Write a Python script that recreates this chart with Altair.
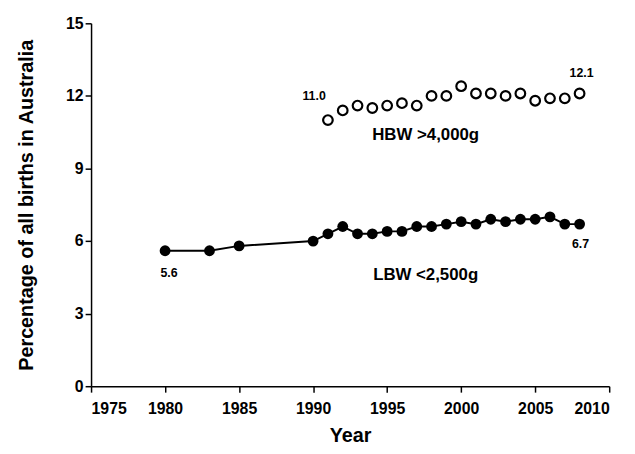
import altair as alt
import pandas as pd

# LBW (<2,500g) series
lbw_years = [1980, 1983, 1985, 1990, 1991, 1992, 1993, 1994, 1995, 1996, 1997,
             1998, 1999, 2000, 2001, 2002, 2003, 2004, 2005, 2006, 2007, 2008]
lbw_values = [5.6, 5.6, 5.8, 6.0, 6.3, 6.6, 6.3, 6.3, 6.4, 6.4, 6.6,
              6.6, 6.7, 6.8, 6.7, 6.9, 6.8, 6.9, 6.9, 7.0, 6.7, 6.7]

# HBW (>4,000g) series
hbw_years = [1991, 1992, 1993, 1994, 1995, 1996, 1997, 1998, 1999, 2000,
             2001, 2002, 2003, 2004, 2005, 2006, 2007, 2008]
hbw_values = [11.0, 11.4, 11.6, 11.5, 11.6, 11.7, 11.6, 12.0, 12.0, 12.4,
              12.1, 12.1, 12.0, 12.1, 11.8, 11.9, 11.9, 12.1]

# series name labels
series_names = ["HBW >4,000g", "LBW <2,500g"]
series_label_x = [1997.6, 1997.6]
series_label_y = [10.4, 4.6]

FONT = "Liberation Sans"

lbw = pd.DataFrame({"Year": lbw_years, "Value": lbw_values})
hbw = pd.DataFrame({"Year": hbw_years, "Value": hbw_values})
names = pd.DataFrame({"Year": series_label_x, "Value": series_label_y, "Label": series_names})

x_scale = alt.Scale(domain=[1975, 2010], nice=False, zero=False)
y_scale = alt.Scale(domain=[0, 15], nice=False)

x_enc = alt.X("Year:Q", scale=x_scale,
              axis=alt.Axis(title="Year", values=[1975, 1980, 1985, 1990, 1995, 2000, 2005, 2010],
                            format="d", labelPadding=9, titlePadding=9))
y_enc = alt.Y("Value:Q", scale=y_scale,
              axis=alt.Axis(title="Percentage of all births in Australia",
                            values=[0, 3, 6, 9, 12, 15], labelPadding=2, titlePadding=29))

lbw_line = alt.Chart(lbw).mark_line(color="black", strokeWidth=2).encode(x=x_enc, y=y_enc)
lbw_pts = alt.Chart(lbw).mark_point(filled=True, color="black", size=120, opacity=1,
                                    shape="circle").encode(x="Year:Q", y="Value:Q")
hbw_pts = alt.Chart(hbw).mark_point(filled=False, color="black", size=95, strokeWidth=2.2,
                                    opacity=1, shape="circle").encode(x="Year:Q", y="Value:Q")

def value_label(df, dx, dy):
    return alt.Chart(df).mark_text(font=FONT, fontSize=12.5, fontWeight="bold", color="black",
                                   dx=dx, dy=dy).encode(
        x="Year:Q", y="Value:Q", text=alt.Text("Value:Q", format=".1f"))

lab_hbw_first = value_label(hbw.head(1), -14, -24)
lab_hbw_last = value_label(hbw.tail(1), 2, -21)
lab_lbw_first = value_label(lbw.head(1), 4, 23)
lab_lbw_last = value_label(lbw.tail(1), 1, 20)

name_text = alt.Chart(names).mark_text(font=FONT, fontSize=17, fontWeight="bold",
                                       color="black").encode(
    x="Year:Q", y="Value:Q", text="Label:N")

chart = alt.layer(lbw_line, lbw_pts, hbw_pts, lab_hbw_first, lab_hbw_last,
                  lab_lbw_first, lab_lbw_last, name_text).properties(
    width=524, height=367,
    background="white",
    autosize=alt.AutoSizeParams(type="none"),
    padding={"left": 84, "top": 13, "right": 18, "bottom": 60},
).configure_view(stroke=None).configure_axis(
    grid=False,
    domainColor="black", domainWidth=1.5,
    tickColor="black", tickSize=6, tickWidth=1.5,
    labelFont=FONT, labelFontSize=16, labelFontWeight="bold", labelColor="black",
    titleFont=FONT, titleFontSize=20, titleFontWeight="bold", titleColor="black",
)

chart.save("out.html", embed_options={"renderer": "svg", "actions": False})
